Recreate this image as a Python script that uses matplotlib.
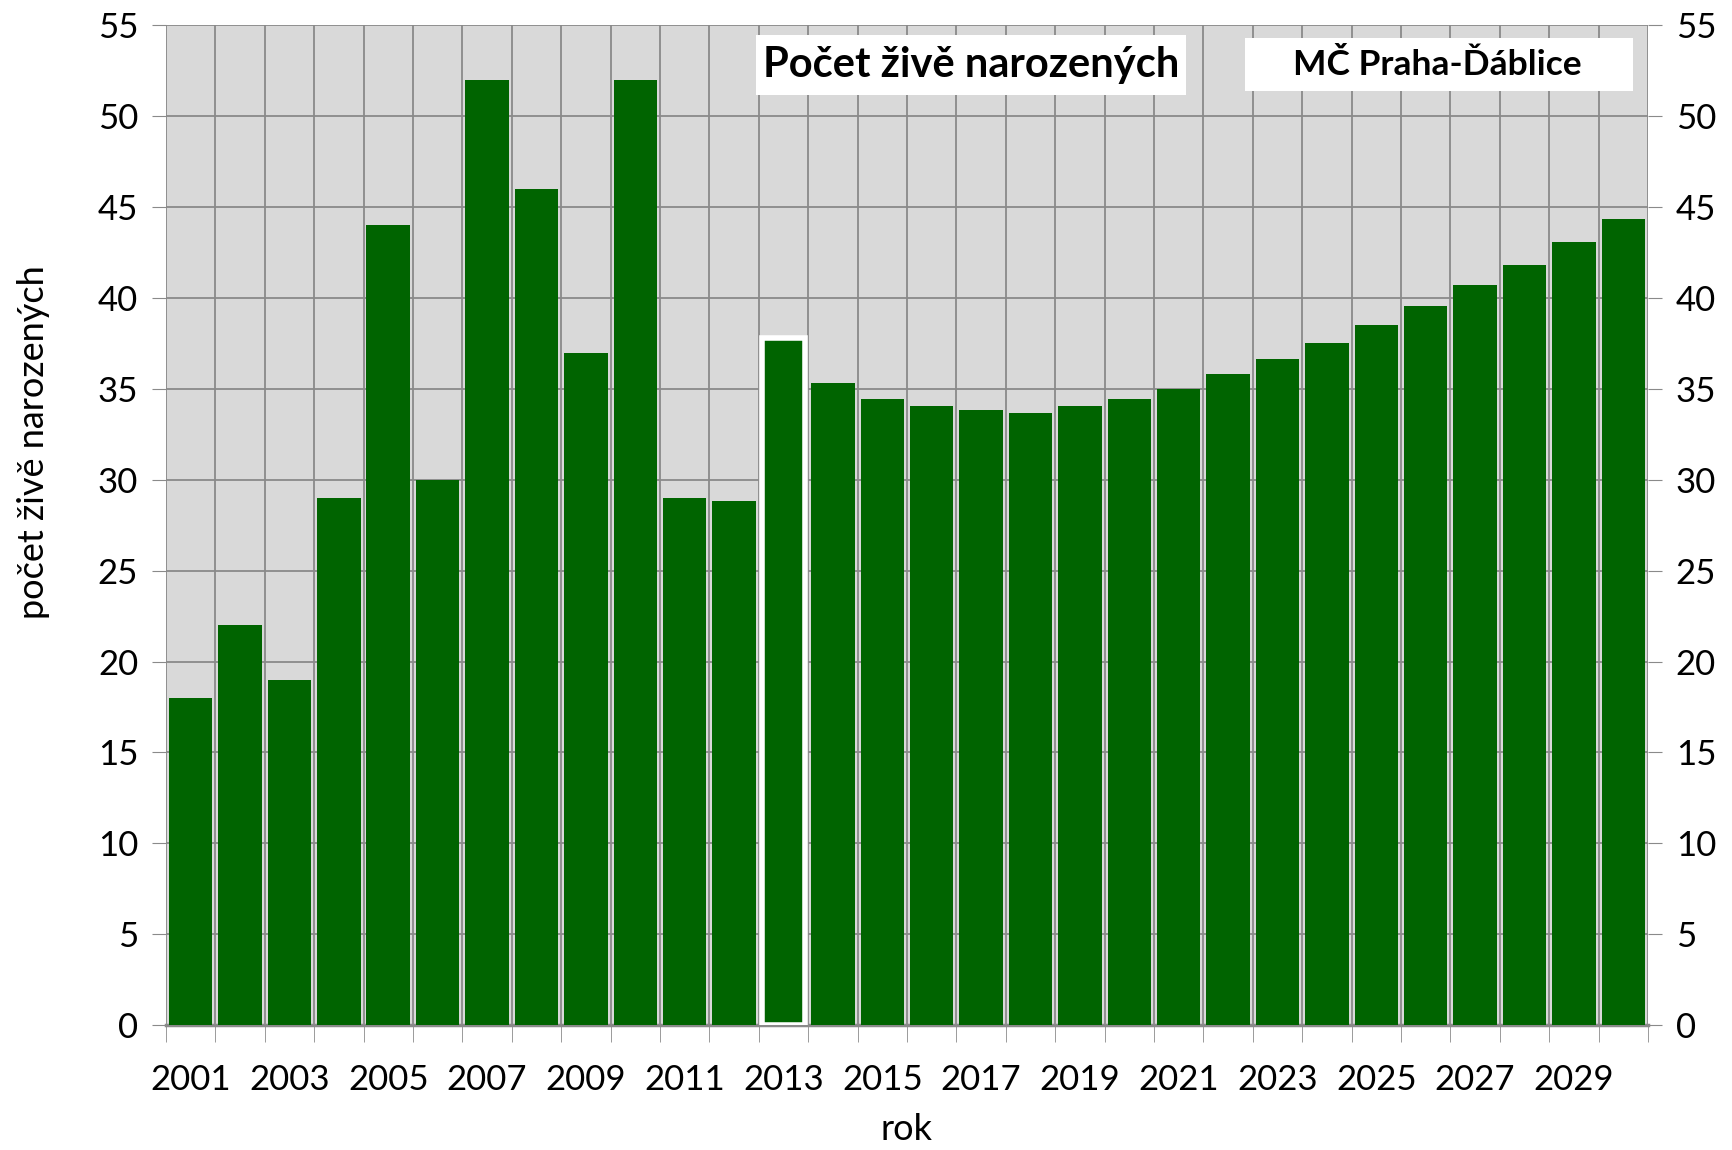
import matplotlib.pyplot as plt
from matplotlib.patches import Rectangle

roky = list(range(2001, 2031))
narozeni = [18, 22, 19, 29, 44, 30, 52, 46, 37, 52, 29, 28.85,
            37.8, 35.3, 34.45, 34.05, 33.85, 33.7, 34.05, 34.45, 35.0, 35.8,
            36.65, 37.55, 38.5, 39.55, 40.7, 41.8, 43.1, 44.35]
zvyrazneny_rok = 2013
popisky_let = [str(r) for r in roky[::2]]

plt.rcParams['font.family'] = ['Lato', 'DejaVu Sans']

fig = plt.figure(figsize=(17.32, 11.5), dpi=100)
ax = fig.add_axes([0.0958, 0.1087, 0.8557, 0.8692])
ax.set_facecolor('#d9d9d9')

x = list(range(len(roky)))
bars = ax.bar(x, narozeni, width=0.88, color='#006400', zorder=3)
i = roky.index(zvyrazneny_rok)
bars[i].set_edgecolor('white')
bars[i].set_linewidth(4)

ax.set_xlim(-0.5, len(roky) - 0.5)
ax.set_ylim(0, 55)
ax.set_yticks(range(0, 56, 5))
ax.set_xticks(x[::2])
ax.set_xticklabels(popisky_let)
ax.set_xticks([k + 0.5 for k in range(-1, len(roky))], minor=True)

seda = '#8a8a8a'
ax.grid(axis='y', color=seda, linewidth=1.3, zorder=1)
ax.grid(axis='x', which='minor', color=seda, linewidth=1.3, zorder=1)
ax.tick_params(axis='x', which='major', length=0, labelsize=25, pad=28)
ax.tick_params(axis='x', which='minor', length=12, color=seda, direction='out')
ax.tick_params(axis='y', length=10, color=seda, labelsize=25,
               right=True, labelright=True, pad=10)

for s in ax.spines.values():
    s.set_visible(False)
ax.spines['bottom'].set_visible(True)
ax.spines['bottom'].set_color(seda)
ax.spines['bottom'].set_linewidth(2.5)

ax.set_xlabel('rok', fontsize=26, labelpad=12)
ax.set_ylabel('počet živě narozených', fontsize=26)
ax.yaxis.set_label_coords(-0.078, 0.583)

# bile ramecky pod nadpisy
ax.add_patch(Rectangle((0.398, 0.930), 0.2905, 0.060, transform=ax.transAxes,
                       facecolor='white', edgecolor='none', zorder=4))
ax.add_patch(Rectangle((0.728, 0.934), 0.2616, 0.053, transform=ax.transAxes,
                       facecolor='white', edgecolor='none', zorder=4))
ax.text(0.543, 0.960, 'Počet živě narozených', transform=ax.transAxes,
        fontsize=30, fontweight='bold', ha='center', va='center', zorder=5)
ax.text(0.858, 0.960, 'MČ Praha-Ďáblice', transform=ax.transAxes,
        fontsize=25.5, fontweight='bold', ha='center', va='center', zorder=5)

fig.savefig('out.png', dpi=100)
